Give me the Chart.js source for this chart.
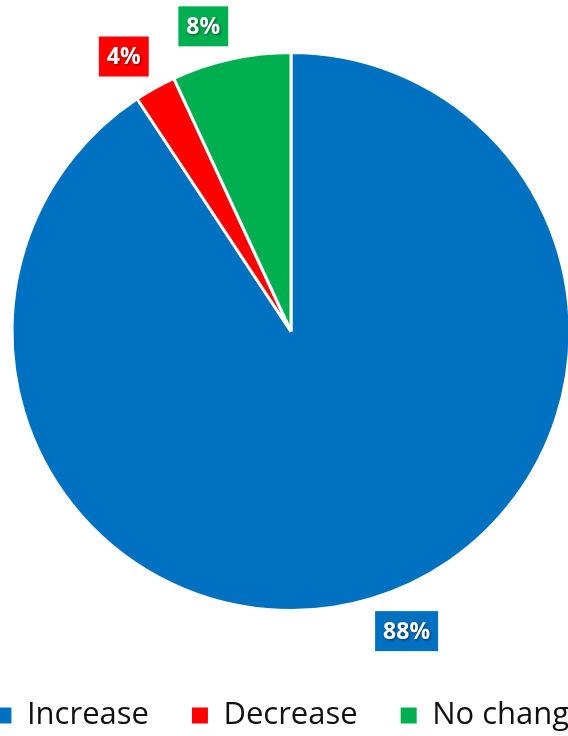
<!DOCTYPE html>
<html>
<head>
<meta charset="utf-8">
<script src="https://cdn.jsdelivr.net/npm/chart.js@4"></script>
<style>
  html, body { margin: 0; padding: 0; background: #fff; overflow: hidden; }
  body { width: 568px; height: 736px; position: relative; }
  #wrap { position: absolute; left: -59px; top: 0; width: 700px; height: 741px; }
</style>
</head>
<body>
<div id="wrap"><canvas id="pieChart"></canvas></div>
<script>
// slices (clockwise from 12 o'clock)
const categories = ['Increase', 'Decrease', 'No change'];
const shares = [90.7, 2.4, 6.9];
// the percentages printed in the boxes
const pctLabels = ['88%', '4%', '8%'];
const colors = ['#0070C0', '#FF0000', '#00B050'];

// boxed labels just outside each slice
const boxLabels = {
    id: 'boxLabels',
    afterDatasetsDraw(chart) {
        const ctx = chart.ctx;
        const arcs = chart.getDatasetMeta(0).data;
        ctx.save();
        ctx.font = 'bold 23px "Open Sans"';
        ctx.textAlign = 'center';
        ctx.textBaseline = 'middle';
        arcs.forEach((arc, i) => {
            const { x, y, startAngle, endAngle, outerRadius } = arc.getProps(['x', 'y', 'startAngle', 'endAngle', 'outerRadius'], true);
            const mid = (startAngle + endAngle) / 2;
            const ax = x + Math.cos(mid) * (outerRadius + 13);
            const ay = y + Math.sin(mid) * (outerRadius + 13);
            const w = ctx.measureText(pctLabels[i]).width + 16;
            const h = 40;
            const bx = Math.cos(mid) >= 0 ? ax : ax - w;
            const by = Math.sin(mid) >= 0 ? ay : ay - h;
            ctx.fillStyle = colors[i];
            ctx.fillRect(bx, by, w, h);
            ctx.shadowColor = 'rgba(0,0,0,0.55)';
            ctx.shadowBlur = 3;
            ctx.shadowOffsetX = 1;
            ctx.shadowOffsetY = 1;
            ctx.fillStyle = '#fff';
            ctx.fillText(pctLabels[i], bx + w / 2, by + h / 2 + 1);
            ctx.shadowColor = 'transparent';
        });
        ctx.restore();
    }
};

new Chart(document.getElementById('pieChart'), {
    type: 'pie',
    data: {
        labels: categories,
        datasets: [{
            data: shares,
            backgroundColor: colors,
            borderColor: '#ffffff',
            borderWidth: 3,
            radius: 279
        }]
    },
    options: {
        responsive: true,
        maintainAspectRatio: false,
        animation: false,
        layout: { padding: { top: 6, bottom: 0, left: 0, right: 0 } },
        plugins: {
            tooltip: { enabled: false },
            legend: {
                position: 'bottom',
                labels: {
                    boxWidth: 16,
                    boxHeight: 16,
                    padding: 43,
                    color: '#111',
                    font: { family: '"Open Sans"', size: 31 },
                    generateLabels(chart) {
                        return Chart.overrides.pie.plugins.legend.labels.generateLabels(chart)
                            .map(item => Object.assign(item, { lineWidth: 0 }));
                    }
                }
            }
        }
    },
    plugins: [boxLabels]
});
</script>
</body>
</html>
